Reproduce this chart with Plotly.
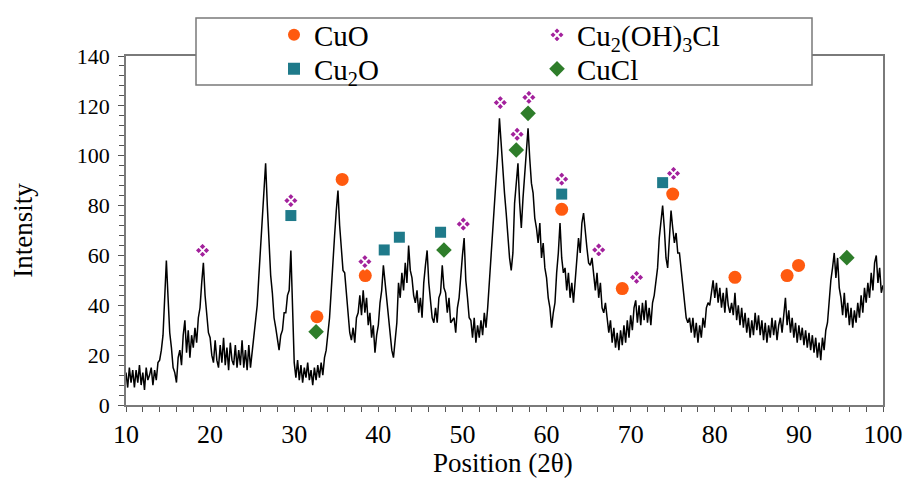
import plotly.graph_objects as go

# 2-theta sampling grid: 10.0 .. 100.0 in 0.2 degree steps
two_theta_start = 10.0
two_theta_step = 0.2

# Intensity (5 samples per degree)
intensity = [
    13, 7, 15, 9, 14,       # 10
    7, 14, 9, 16, 8,        # 11
    13, 6, 15, 10, 12,      # 12
    15, 8, 14, 10, 17,      # 13
    18, 22, 28, 46, 58,     # 14
    43, 29, 23, 15, 13,     # 15
    9, 19, 22, 16, 28,      # 16
    34, 21, 30, 19, 28,     # 17
    23, 31, 25, 35, 39,     # 18
    49, 57, 44, 37, 29,     # 19
    27, 20, 17, 26, 18,     # 20
    15, 24, 17, 27, 16,     # 21
    23, 14, 25, 18, 16,     # 22
    24, 15, 22, 16, 26,     # 23
    15, 22, 14, 24, 15,     # 24
    21, 26, 32, 40, 52,     # 25
    63, 75, 86, 97, 80,     # 26
    66, 52, 45, 35, 31,     # 27
    26, 22, 28, 30, 37,     # 28
    37, 44, 46, 62, 40,     # 29
    17, 11, 18, 10, 16,     # 30
    9, 15, 11, 17, 10,      # 31
    14, 8, 15, 10, 16,      # 32
    11, 17, 12, 19, 22,     # 33
    29, 35, 46, 55, 68,     # 34
    78, 86, 72, 61, 54,     # 35
    53, 43, 37, 29, 26,     # 36
    31, 25, 35, 37, 44,     # 37
    36, 46, 37, 43, 32,     # 38
    37, 27, 32, 21, 28,     # 39
    32, 41, 46, 56, 49,     # 40
    45, 35, 29, 22, 19,     # 41
    26, 33, 49, 43, 53,     # 42
    46, 57, 49, 64, 54,     # 43
    51, 44, 41, 46, 37,     # 44
    43, 35, 49, 56, 62,     # 45
    49, 43, 35, 33, 39,     # 46
    33, 43, 45, 56, 47,     # 47
    45, 37, 43, 33, 34,     # 48
    35, 29, 39, 43, 53,     # 49
    60, 67, 50, 43, 35,     # 50
    34, 27, 35, 25, 32,     # 51
    27, 34, 28, 37, 31,     # 52
    39, 49, 63, 71, 81,     # 53
    91, 101, 115, 104, 96,  # 54
    85, 77, 67, 59, 54,     # 55
    61, 81, 89, 97, 81,     # 56
    71, 83, 93, 103, 111,   # 57
    99, 89, 85, 75, 71,     # 58
    65, 73, 59, 65, 55,     # 59
    51, 43, 39, 31, 37,     # 60
    41, 53, 61, 73, 59,     # 61
    53, 55, 46, 53, 43,     # 62
    49, 41, 51, 57, 67,     # 63
    61, 73, 77, 69, 63,     # 64
    57, 56, 59, 51, 46,     # 65
    53, 43, 49, 39, 37,     # 66
    41, 35, 29, 34, 25,     # 67
    31, 23, 29, 22, 30,     # 68
    24, 32, 25, 34, 27,     # 69
    36, 30, 39, 42, 33,     # 70
    40, 32, 41, 34, 42,     # 71
    33, 39, 32, 41, 44,     # 72
    49, 55, 67, 73, 80,     # 73
    71, 59, 55, 65, 78,     # 74
    71, 65, 69, 61, 61,     # 75
    55, 47, 43, 35, 33,     # 76
    35, 29, 35, 27, 33,     # 77
    25, 32, 27, 35, 31,     # 78
    39, 41, 40, 45, 50,     # 79
    43, 49, 41, 47, 39,     # 80
    45, 37, 47, 40, 37,     # 81
    41, 36, 45, 34, 40,     # 82
    32, 39, 31, 37, 29,     # 83
    35, 27, 34, 28, 37,     # 84
    30, 36, 28, 34, 26,     # 85
    33, 25, 32, 27, 35,     # 86
    28, 34, 26, 32, 35,     # 87
    29, 36, 43, 32, 38,     # 88
    29, 35, 27, 33, 25,     # 89
    32, 26, 31, 24, 30,     # 90
    23, 29, 22, 28, 21,     # 91
    27, 19, 25, 18, 27,     # 92
    22, 30, 33, 43, 50,     # 93
    55, 61, 51, 59, 47,     # 94
    43, 36, 45, 35, 41,     # 95
    32, 39, 31, 38, 33,     # 96
    41, 35, 44, 37, 47,     # 97
    41, 49, 43, 53, 46,     # 98
    57, 60, 49, 55, 45,     # 99
    48,                     # 100
]
two_theta = [round(two_theta_start + two_theta_step * i, 1) for i in range(len(intensity))]

# Phase markers (position, label height)
cuo_x = [32.7, 35.7, 38.45, 61.8, 69.0, 75.0, 82.4, 88.6, 89.96]
cuo_y = [35.4, 90.5, 51.9, 78.5, 46.7, 84.6, 51.2, 51.9, 56.0]
cu2o_x = [29.6, 40.7, 42.5, 47.4, 61.8, 73.8]
cu2o_y = [76.0, 62.2, 67.3, 69.3, 84.6, 89.2]
cu2oh3cl_x = [19.1, 29.6, 38.4, 50.1, 54.5, 56.5, 57.9, 61.8, 66.2, 70.7, 75.1]
cu2oh3cl_y = [62.0, 82.0, 57.5, 72.6, 121.3, 108.6, 123.4, 90.6, 62.2, 51.2, 92.9]
cucl_x = [32.6, 47.8, 56.4, 57.8, 95.7]
cucl_y = [29.4, 62.2, 102.3, 117.0, 59.1]

x_ticks = [10, 20, 30, 40, 50, 60, 70, 80, 90, 100]
y_ticks = [0, 20, 40, 60, 80, 100, 120, 140]

SERIF = "Liberation Serif, Times New Roman, serif"

fig = go.Figure()
fig.add_trace(go.Scatter(x=two_theta, y=intensity, mode="lines",
                         line=dict(color="black", width=1.5), showlegend=False,
                         hoverinfo="skip"))

fig.add_trace(go.Scatter(x=cuo_x, y=cuo_y, mode="markers", name="CuO",
                         marker=dict(symbol="circle", size=13, color="#FF5A0F"),
                         legend="legend"))
fig.add_trace(go.Scatter(x=cu2o_x, y=cu2o_y, mode="markers", name="Cu<sub>2</sub>O",
                         marker=dict(symbol="square", size=11, color="#1F7A8A"),
                         legend="legend2"))
fig.add_trace(go.Scatter(x=cu2oh3cl_x, y=cu2oh3cl_y, mode="markers",
                         name="Cu<sub>2</sub>(OH)<sub>3</sub>Cl",
                         marker=dict(symbol="diamond-x", size=12, color="#A3219C",
                                     line=dict(color="white", width=1.8)),
                         legend="legend3"))
fig.add_trace(go.Scatter(x=cucl_x, y=cucl_y, mode="markers", name="CuCl",
                         marker=dict(symbol="diamond", size=12, color="#2E7D2A"),
                         legend="legend4"))

W, H = 908, 478
ml, mr, mt, mb = 126, 25, 56, 73
pw, ph = W - ml - mr, H - mt - mb

def px2x(px):
    return (px - ml) / pw

def py2y(py):
    return (H - mb - py) / ph

leg_common = dict(bgcolor="rgba(0,0,0,0)", borderwidth=0,
                  font=dict(family=SERIF, size=29, color="black"),
                  xanchor="left", yanchor="middle", itemsizing="constant")

fig.update_layout(
    width=W, height=H,
    margin=dict(l=ml, r=mr, t=mt, b=mb, autoexpand=False),
    plot_bgcolor="white", paper_bgcolor="white",
    showlegend=True,
    legend=dict(x=px2x(274), y=py2y(35), **leg_common),
    legend2=dict(x=px2x(274), y=py2y(69), **leg_common),
    legend3=dict(x=px2x(537), y=py2y(35), **leg_common),
    legend4=dict(x=px2x(537), y=py2y(69), **leg_common),
    shapes=[dict(type="rect", xref="paper", yref="paper",
                 x0=px2x(196), x1=px2x(812), y0=py2y(85), y1=py2y(18),
                 line=dict(color="#7a7a7a", width=1.5), fillcolor="white",
                 layer="above")],
    annotations=[dict(text="Position (2θ)", xref="paper", yref="paper",
                      x=px2x(503), y=py2y(463), xanchor="center", yanchor="middle",
                      showarrow=False, borderpad=0,
                      font=dict(family=SERIF, size=27, color="black"))],
    xaxis=dict(range=[10, 100], tickvals=x_ticks, ticks="outside", ticklen=5,
               tickcolor="#555", showline=True, mirror=True, linecolor="#7a7a7a",
               linewidth=1.5, showgrid=False, zeroline=False, automargin=False,
               minor=dict(dtick=2, ticks="outside", ticklen=5, tickcolor="#555"),
               tickfont=dict(family=SERIF, size=26, color="black")),
    yaxis=dict(range=[0, 140], tickvals=y_ticks, ticks="outside", ticklen=6,
               tickcolor="#555", showline=True, mirror=True, linecolor="#7a7a7a",
               linewidth=1.5, showgrid=False, zeroline=False, automargin=False,
               ticklabelstandoff=4,
               minor=dict(dtick=4, ticks="outside", ticklen=5, tickcolor="#555"),
               tickfont=dict(family=SERIF, size=22, color="black"),
               title=dict(text="Intensity", standoff=36,
                          font=dict(family=SERIF, size=27, color="black"))),
)

fig.write_html("out.html", config={"displayModeBar": False},
               post_script="document.body.style.margin='0';document.body.style.padding='0';")
